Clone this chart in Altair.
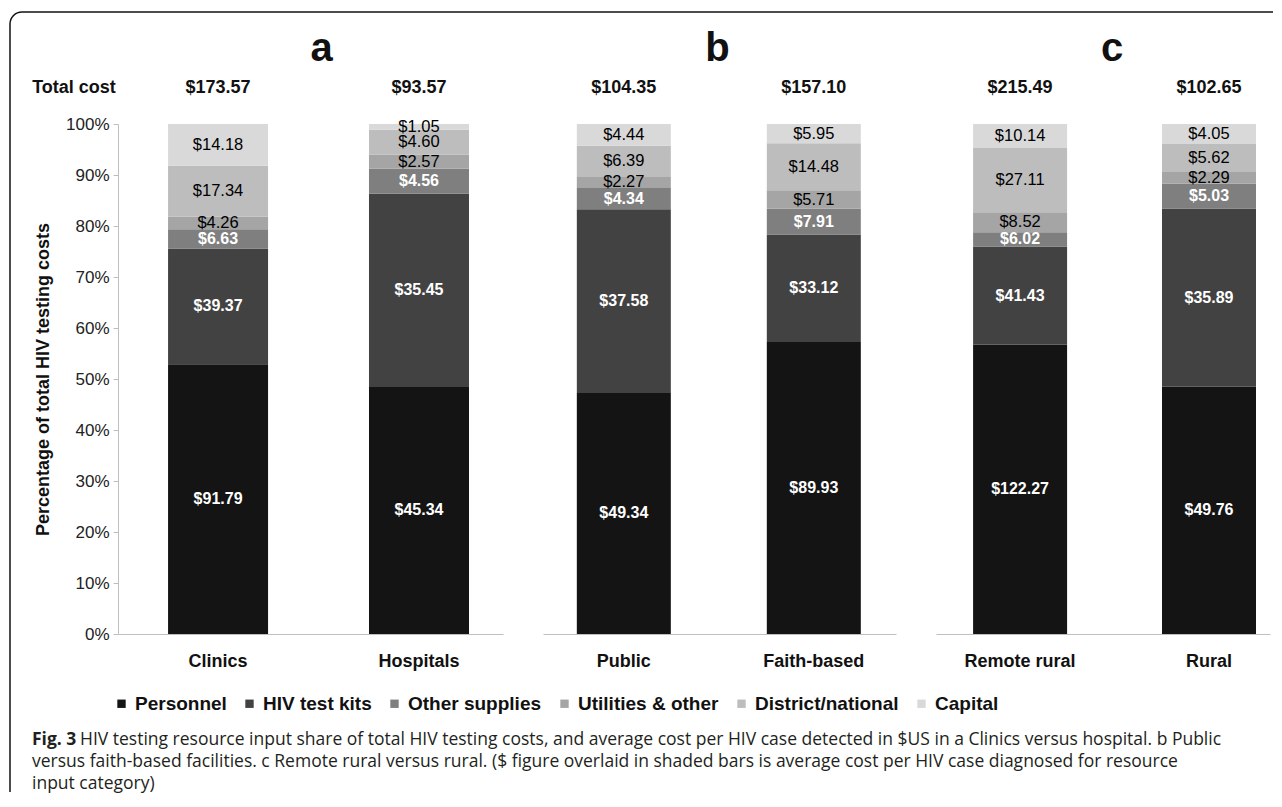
import altair as alt
import pandas as pd

F = "Liberation Sans"
CAP_F = "Open Sans"

categories = ["Personnel", "HIV test kits", "Other supplies", "Utilities & other", "District/national", "Capital"]
colors = ["#141414", "#424242", "#7f7f7f", "#a5a5a5", "#bdbdbd", "#d9d9d9"]

groups_a = ["Clinics", "Hospitals"]
groups_b = ["Public", "Faith-based"]
groups_c = ["Remote rural", "Rural"]

clinics = [91.79, 39.37, 6.63, 4.26, 17.34, 14.18]
hospitals = [45.34, 35.45, 4.56, 2.57, 4.60, 1.05]
public = [49.34, 37.58, 4.34, 2.27, 6.39, 4.44]
faith_based = [89.93, 33.12, 7.91, 5.71, 14.48, 5.95]
remote_rural = [122.27, 41.43, 6.02, 8.52, 27.11, 10.14]
rural = [49.76, 35.89, 5.03, 2.29, 5.62, 4.05]

totals_a = [173.57, 93.57]
totals_b = [104.35, 157.10]
totals_c = [215.49, 102.65]

panel_letters = ["a", "b", "c"]
y_title = "Percentage of total HIV testing costs"
caption_bold = "Fig. 3"
caption_lines = [
    "HIV testing resource input share of total HIV testing costs, and average cost per HIV case detected in $US in a Clinics versus hospital. b Public",
    "versus faith-based facilities. c Remote rural versus rural. ($ figure overlaid in shaded bars is average cost per HIV case diagnosed for resource",
    "input category)",
]

legend = alt.Legend(
    title=None, orient="none", legendX=-6, legendY=570, direction="horizontal",
    symbolType="square", symbolSize=70, symbolStrokeWidth=0,
    labelFont=F, labelFontSize=19, labelFontWeight="bold", labelColor="#111",
    columnPadding=13, labelOffset=4,
)

yaxis_a = alt.Axis(
    title=y_title, format="%", values=[i / 10 for i in range(11)], grid=False,
    domainColor="#bfbfbf", tickColor="#bfbfbf", tickSize=5,
    labelFont=F, labelFontSize=17, labelColor="#222", labelPadding=4,
    titleFont=F, titleFontSize=18, titleFontWeight="bold", titleColor="#111", titlePadding=13,
)


def panel(groups, vals_list, totals, width, bar_size, align, pad_outer, letter, letter_dx, show_y):
    rows = []
    for g, vals in zip(groups, vals_list):
        for i, (c, v) in enumerate(zip(categories, vals)):
            rows.append(dict(group=g, category=c, value=v, idx=i, label=f"${v:.2f}"))
    df = pd.DataFrame(rows)

    xenc = alt.X(
        "group:N", sort=groups,
        scale=alt.Scale(paddingInner=0.5, paddingOuter=pad_outer, align=align),
        axis=alt.Axis(title=None, labelFont=F, labelFontSize=18, labelFontWeight="bold",
                      labelColor="#111", ticks=False, domainColor="#bfbfbf", domainWidth=1.2,
                      labelPadding=18, labelAngle=0),
    )
    yaxis = yaxis_a if show_y else None
    yscale = alt.Scale(domain=[0, 1])

    base = alt.Chart(df)
    bars = base.mark_bar(size=bar_size).encode(
        x=xenc,
        y=alt.Y("value:Q", stack="normalize", scale=yscale, axis=yaxis),
        color=alt.Color("category:N", sort=categories,
                        scale=alt.Scale(domain=categories, range=colors), legend=legend),
        order=alt.Order("idx:Q", sort="ascending"),
    )
    lab = base.transform_joinaggregate(
        tot="sum(value)", groupby=["group"]
    ).transform_window(
        cum="sum(value)", sort=[alt.SortField("idx", order="ascending")],
        groupby=["group"], frame=[None, 0]
    ).transform_calculate(mid="(datum.cum - datum.value / 2) / datum.tot")
    white = lab.transform_filter("datum.idx < 3").mark_text(
        color="white", fontWeight="bold", fontSize=16, font=F, baseline="middle"
    ).encode(x=xenc, y=alt.Y("mid:Q", scale=yscale, axis=yaxis), text="label:N")
    black = lab.transform_filter("datum.idx >= 3").mark_text(
        color="black", fontSize=16.5, font=F, baseline="middle"
    ).encode(x=xenc, y=alt.Y("mid:Q", scale=yscale, axis=yaxis), text="label:N")

    tdf = pd.DataFrame({"group": groups, "t": [f"${v:.2f}" for v in totals]})
    tot = alt.Chart(tdf).mark_text(
        fontWeight="bold", fontSize=18, font=F, color="#111", baseline="middle"
    ).encode(x=xenc, y=alt.value(-36), text="t:N")

    let = alt.Chart(pd.DataFrame({"t": [letter]})).mark_text(
        fontWeight="bold", fontSize=40, font=F, color="#111", baseline="alphabetic"
    ).encode(x=alt.value(width / 2 + letter_dx), y=alt.value(-63), text="t:N")

    layers = [bars, white, black, tot, let]
    return layers, width


la, wa = panel(groups_a, [clinics, hospitals], totals_a, 385, 100, 0.596, 0.208, panel_letters[0], 11, True)
lb, wb = panel(groups_b, [public, faith_based], totals_b, 353, 94, 0.49, 0.179, panel_letters[1], -2, False)
lc, wc = panel(groups_c, [remote_rural, rural], totals_c, 334, 94, 0.728, 0.134, panel_letters[2], 9, False)

one = pd.DataFrame({"k": [0]})

total_cost = alt.Chart(pd.DataFrame({"t": ["Total cost"]})).mark_text(
    fontWeight="bold", fontSize=18, font=F, color="#111", baseline="middle"
).encode(x=alt.value(-44), y=alt.value(-36), text="t:N")

frame_top = alt.Chart(one).mark_rule(color="#111", strokeWidth=1.5).encode(
    x=alt.value(-96), x2=alt.value(1155), y=alt.value(-112))
frame_left = alt.Chart(one).mark_rule(color="#111", strokeWidth=1.5).encode(
    x=alt.value(-108), y=alt.value(-100), y2=alt.value(668))
frame_corner = alt.Chart(one).mark_arc(
    radius=12.75, radius2=11.25, theta=4.71239, theta2=6.28319, color="#111"
).encode(x=alt.value(-96), y=alt.value(-100))

CAP_SIZE = 17.5
cap_fig = alt.Chart(pd.DataFrame({"t": [caption_bold]})).mark_text(
    font=CAP_F, fontSize=CAP_SIZE, fontWeight="bold", color="#231f20", align="left", baseline="middle"
).encode(x=alt.value(-86), y=alt.value(616), text="t:N")
cap_layers = []
cap_x = [-86 + 48, -86, -86]
cap_y = [616, 638, 660]
for line, cx, cy in zip(caption_lines, cap_x, cap_y):
    cap_layers.append(alt.Chart(pd.DataFrame({"t": [line]})).mark_text(
        font=CAP_F, fontSize=CAP_SIZE, color="#231f20", align="left", baseline="middle"
    ).encode(x=alt.value(cx), y=alt.value(cy), text="t:N"))

pa = alt.layer(*la, total_cost, frame_top, frame_left, frame_corner, cap_fig, *cap_layers).properties(width=wa, height=510)
pb = alt.layer(*lb).properties(width=wb, height=510)
pc = alt.layer(*lc).properties(width=wc, height=510)

chart = alt.hconcat(pa, pb, pc, spacing=40, bounds="flush").resolve_scale(
    x="independent", y="independent", color="shared"
).properties(
    padding={"left": 1, "top": 3, "right": 0, "bottom": 2},
    background="white",
).configure_view(stroke=None)

chart.save("out.html", embed_options={"renderer": "svg", "actions": False})
